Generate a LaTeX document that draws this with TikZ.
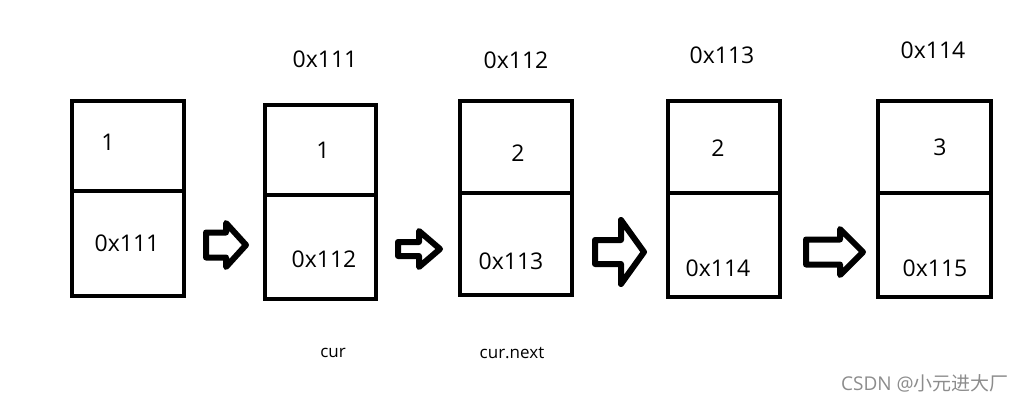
\documentclass[tikz,border=0pt]{standalone}
\usepackage{fontspec}
\setmainfont{Open Sans}
\newfontfamily\cjkfont{Noto Sans CJK SC}
\usetikzlibrary{calc}

\tikzset{
  cell/.style={draw,line width=4.5pt,minimum width=112pt,inner sep=0pt},
  val/.style={font=\fontsize{23}{26}\selectfont,inner sep=0pt},
  tag/.style={font=\fontsize{17}{20}\selectfont,inner sep=0pt},
  blockarr/.style={draw,line width=6pt,line join=round,fill=white}
}

\begin{document}
\begin{tikzpicture}[x=1pt,y=-1pt]
 \useasboundingbox (0,0) rectangle (1025,402);

 \node[cell,minimum height=90pt]  (V1) at (128,146) {};
 \node[cell,minimum height=105pt] (P1) at (128,243.5) {};
 \node[cell,minimum height=90pt,minimum width=111pt]  (V2) at (320.5,150) {};
 \node[cell,minimum height=104pt,minimum width=111pt] (P2) at (320.5,247) {};
 \node[cell,minimum height=92pt]  (V3) at (516,147) {};
 \node[cell,minimum height=102pt] (P3) at (516,244) {};
 \node[cell,minimum height=92pt]  (V4) at (724,147) {};
 \node[cell,minimum height=104pt] (P4) at (724,245) {};
 \node[cell,minimum height=92pt,minimum width=113pt]  (V5) at (934.5,147) {};
 \node[cell,minimum height=104pt,minimum width=113pt] (P5) at (934.5,245) {};

 \node[val] (d1) at (108,142) {1};
 \node[val] (d2) at (323,150) {1};
 \node[val] (d3) at (518,153) {2};
 \node[val] (d4) at (718,148) {2};
 \node[val] (d5) at (940,147) {3};

 \node[val] (n1) at (127,243) {0x111};
 \node[val] (n2) at (324,259) {0x112};
 \node[val] (n3) at (511,261) {0x113};
 \node[val] (n4) at (718,268) {0x114};
 \node[val] (n5) at (935,268) {0x115};

 \node[val] (a2) at (325,59) {0x111};
 \node[val] (a3) at (516,60) {0x112};
 \node[val] (a4) at (722,55) {0x113};
 \node[val] (a5) at (933,50) {0x114};

 \node[tag] (cur)  at (333,353) {cur};
 \node[tag] (next) at (512,353) {cur.next};

 \foreach \xa/\xb/\xc/\ym/\sh/\hh in {206/226/246/245/12.5/22,
                                     398/419/440/249/7/18,
                                     595/621/644/252/12/32,
                                     806/840/863/252/12.5/23}
   \draw[blockarr] (\xa,{\ym-\sh}) -- (\xb,{\ym-\sh}) -- (\xb,{\ym-\hh})
     -- (\xc,\ym) -- (\xb,{\ym+\hh}) -- (\xb,{\ym+\sh}) -- (\xa,{\ym+\sh}) -- cycle;

 \node[font=\fontsize{19}{22}\selectfont,text=black!45,inner sep=0pt] (mark)
   at (925,383) {CSDN @{\cjkfont 小元进大厂}};
\end{tikzpicture}
\end{document}
